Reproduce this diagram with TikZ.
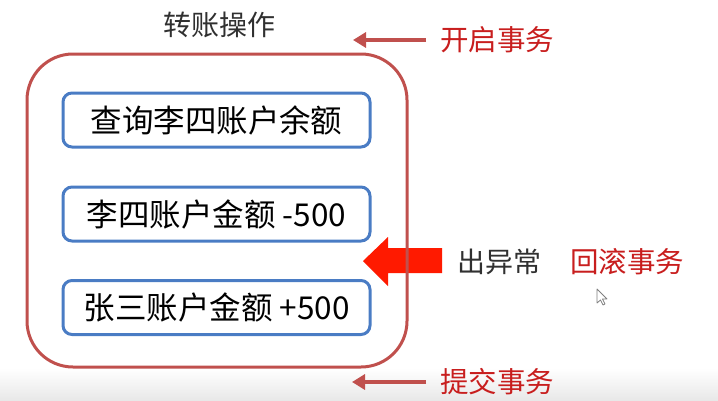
\documentclass[tikz,border=0pt]{standalone}
\usepackage{fontspec}
\setmainfont{Noto Sans CJK SC}
\usetikzlibrary{arrows.meta}
\definecolor{boxred}{HTML}{C0504D}
\definecolor{boxblue}{HTML}{4A7CC4}
\definecolor{lblred}{HTML}{C81E1E}
\definecolor{txtgray}{HTML}{303030}
\definecolor{bigred}{HTML}{FF1A00}
\begin{document}
\begin{tikzpicture}[x=1pt,y=-1pt,
  outerbox/.style={draw=boxred, line width=3pt, rounded corners=46pt, minimum width=380pt, minimum height=313pt, inner sep=0pt},
  stepbox/.style={draw=boxblue, line width=3pt, rounded corners=9pt, minimum width=307pt, minimum height=54pt, inner sep=0pt, font=\fontsize{31.5}{33}\selectfont, text=black},
  redlbl/.style={text=lblred, font=\fontsize{28.5}{30}\selectfont, inner sep=0pt, anchor=west},
  graylbl/.style={text=txtgray, font=\fontsize{28}{30}\selectfont, inner sep=0pt},
  thinarrow/.style={draw=boxred, line width=4.5pt, -{Triangle[length=13pt,width=15pt]}}
]
\useasboundingbox (0,0) rectangle (718,400);
\shade[top color=white, bottom color=black!9] (0,368) rectangle (718,400);

% title
\node[graylbl] (title) at (219,25) {转账操作};

% big red arrow (drawn under box border)
\fill[bigred] (442,248) -- (388,248) -- (388,237) -- (363,261) -- (388,286) -- (388,273) -- (442,273) -- cycle;

% outer box
\node[outerbox] (outer) at (217,210.5) {};

% step boxes
\node[stepbox] (s1) at (216.5,120) {查询李四账户余额};
\node[stepbox] (s2) at (216.5,214) {李四账户金额 -500};
\node[stepbox] (s3) at (216.5,307.5) {张三账户金额 +500};

% labels
\node[redlbl] (begin) at (440,40) {开启事务};
\node[redlbl] (commit) at (440,382) {提交事务};
\node[graylbl, anchor=west] (exc) at (457,262) {出异常};
\node[redlbl] (rollback) at (570,262) {回滚事务};

\coordinate (t1) at (353,40);
\coordinate (t2) at (352,382);
\draw[thinarrow] ([xshift=-14pt]begin.west) -- (t1);
\draw[thinarrow] ([xshift=-14pt]commit.west) -- (t2);

% mouse cursor
\draw[gray, line width=0.8pt, fill=white, line join=round]
  (597,289) -- (597,303) -- (600.5,300) -- (603,305) -- (605,304) -- (602.5,299) -- (607,299) -- cycle;
\end{tikzpicture}
\end{document}
